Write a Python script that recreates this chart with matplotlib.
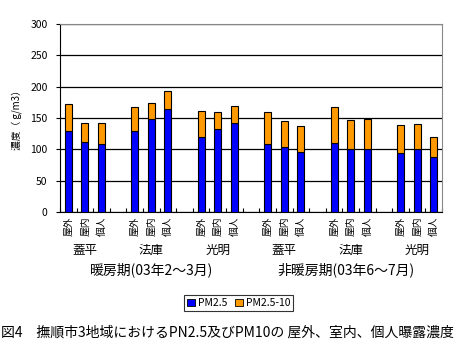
import numpy as np
import matplotlib
matplotlib.use('Agg')
from matplotlib import pyplot as plt
from matplotlib.patches import Patch

plt.rcParams['font.family'] = ['Noto Sans CJK JP', 'DejaVu Sans']

# data
sites = ['蓋平', '法庫', '光明', '蓋平', '法庫', '光明']
places = ['屋外', '屋内', '個人']
periods = ['暖房期(03年2～3月)', '非暖房期(03年6～7月)']
pm25 = [130, 111, 108, 130, 149, 165, 120, 133, 142,
        108, 104, 95, 110, 100, 100, 94, 100, 87]
total = [172, 142, 142, 167, 174, 193, 161, 159, 169,
         159, 145, 137, 167, 146, 149, 139, 140, 120]
coarse = [t - f for t, f in zip(total, pm25)]

# bar positions: 3 bars per site, one empty slot between sites
xpos = []
for g in range(6):
    for k in range(3):
        xpos.append(g * 4 + k)
xpos = np.array(xpos)

fig = plt.figure(figsize=(4.61, 3.43), dpi=100)
ax = fig.add_axes([0.130, 0.382, 0.829, 0.548])

ax.bar(xpos, pm25, width=0.42, color='#0000ff', edgecolor='black', linewidth=0.8, zorder=3)
ax.bar(xpos, coarse, width=0.42, bottom=pm25, color='#ff9900', edgecolor='black', linewidth=0.8, zorder=3)

ax.set_xlim(-0.5, 22.5)
ax.set_ylim(0, 300)
ax.set_yticks(range(0, 301, 50))
ax.tick_params(axis='y', labelsize=7.5, length=3, direction='out', pad=6)
ax.set_xticks(np.arange(-0.5, 23, 1))
ax.set_xticklabels([])
ax.tick_params(axis='x', length=3, direction='in')
ax.grid(axis='y', color='black', linewidth=0.9, zorder=1)
ax.spines['top'].set_color('#888888')
ax.spines['right'].set_color('#888888')
ax.set_ylabel('濃度（ g/m3）', fontsize=7, labelpad=6)

# category labels (rotated), site names and periods
for x, i in zip(xpos, range(18)):
    ax.text(x, -8, places[i % 3], rotation=90, ha='center', va='top', fontsize=7)
for g in range(6):
    ax.text(g * 4 + 1, -61, sites[g], ha='center', va='center', fontsize=9)
ax.text(5.0, -93, periods[0], ha='center', va='center', fontsize=10)
ax.text(16.7, -93, periods[1], ha='center', va='center', fontsize=10)

handles = [Patch(facecolor='#0000ff', edgecolor='black', linewidth=0.6),
           Patch(facecolor='#ff9900', edgecolor='black', linewidth=0.6)]
leg = fig.legend(handles, ['PM2.5', 'PM2.5-10'], loc='center', bbox_to_anchor=(0.518, 0.117),
                 ncol=2, fontsize=7.5, frameon=True, fancybox=False, handlelength=0.7,
                 handleheight=0.7, handletextpad=0.3, columnspacing=0.8, borderpad=0.3,
                 borderaxespad=0)
leg.get_frame().set_edgecolor('black')
leg.get_frame().set_linewidth(0.8)

fig.text(0.002, 0.029, '図4　撫順市3地域におけるPN2.5及びPM10の 屋外、室内、個人曝露濃度',
         fontsize=10, ha='left', va='center')

fig.savefig('out.png', dpi=100)
